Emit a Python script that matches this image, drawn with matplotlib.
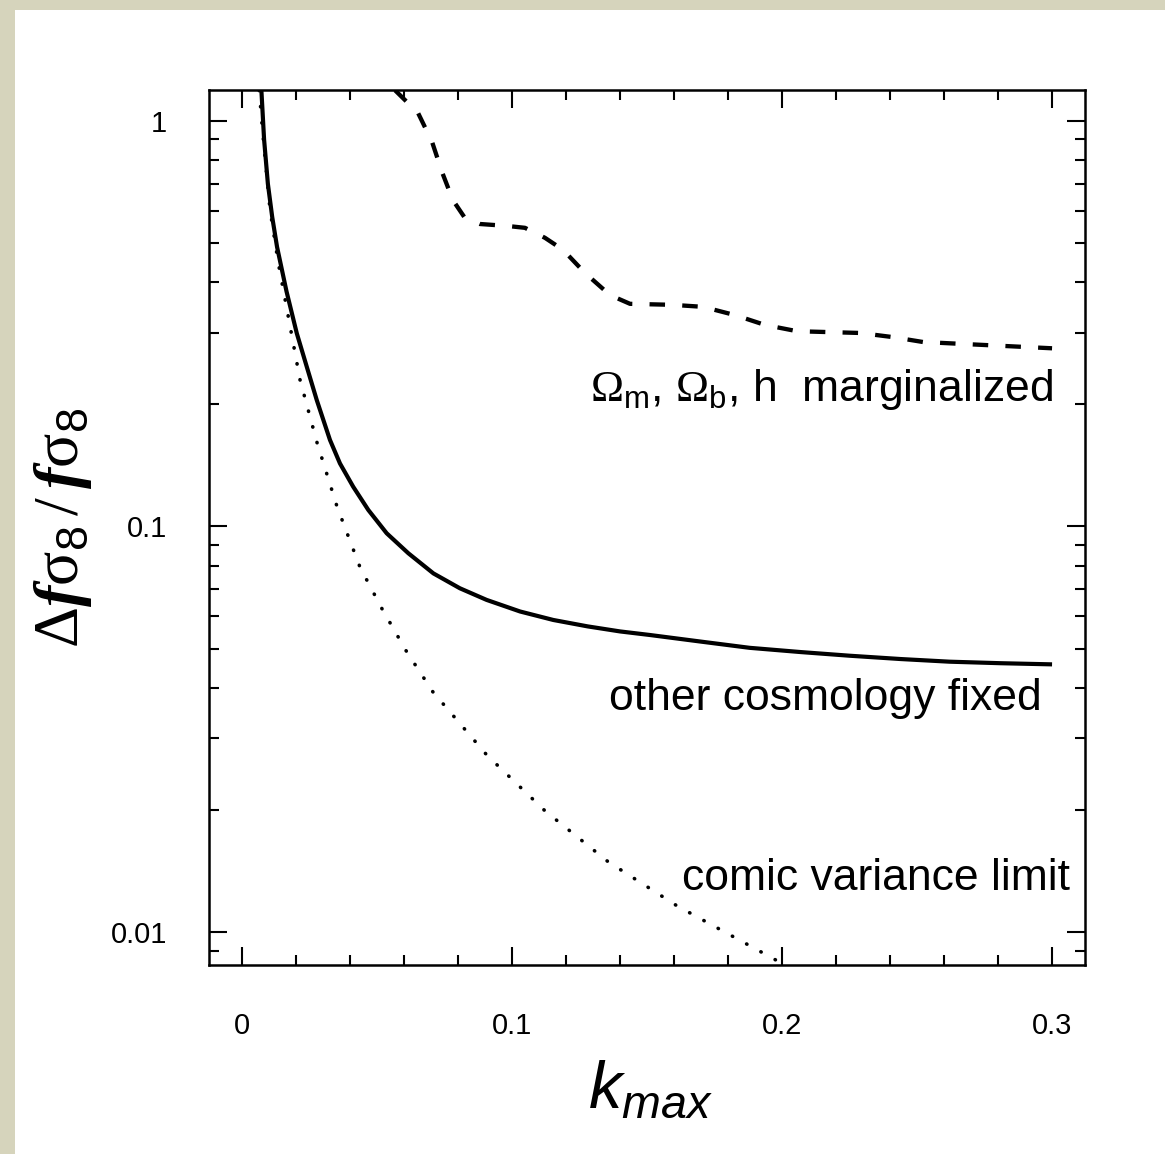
import numpy as np
import matplotlib.pyplot as plt
from matplotlib.patches import Rectangle
from matplotlib.ticker import FixedLocator, FixedFormatter, MultipleLocator, LogLocator, NullFormatter

plt.rcParams["font.family"] = ["Liberation Sans", "DejaVu Sans"]
plt.rcParams["mathtext.fontset"] = "custom"
plt.rcParams["mathtext.rm"] = "Liberation Serif"
plt.rcParams["mathtext.it"] = "Liberation Sans:italic"
plt.rcParams["mathtext.bf"] = "Liberation Serif:italic:bold"
plt.rcParams["mathtext.sf"] = "Liberation Sans"

# curves: k_max vs fractional error on f*sigma8
k_fixed = [0.0072, 0.0082, 0.0096, 0.0112, 0.0130, 0.0165, 0.0203, 0.0240, 0.0277,
           0.0326, 0.0363, 0.0412, 0.0468, 0.0536, 0.0616, 0.0709, 0.0807, 0.0906,
           0.103, 0.1153, 0.128, 0.140, 0.151, 0.170, 0.188, 0.207, 0.225, 0.244,
           0.262, 0.281, 0.300]
err_fixed = [1.19, 0.90, 0.70, 0.58, 0.489, 0.38, 0.2996, 0.2477, 0.205,
             0.1634, 0.143, 0.1253, 0.1098, 0.0962, 0.0859, 0.0766, 0.0704, 0.0659,
             0.0617, 0.0588, 0.0567, 0.0551, 0.054, 0.052, 0.0502, 0.049, 0.048, 0.0471,
             0.0464, 0.0460, 0.0457]

k_cv = [0.0064, 0.0076, 0.0104, 0.0135, 0.0167, 0.0215, 0.0278, 0.0352, 0.0437, 0.0519,
        0.0610, 0.0707, 0.0907, 0.1122, 0.1356, 0.1611, 0.1874, 0.1981]
err_cv = [1.19, 0.95, 0.604, 0.445, 0.342, 0.23, 0.161, 0.112, 0.0794, 0.0626,
          0.0491, 0.0391, 0.0273, 0.0199, 0.0149, 0.0116, 0.0093, 0.0085]

k_marg = [0.0567, 0.0652, 0.0704, 0.0741, 0.0781, 0.0826, 0.0881, 0.0981, 0.1048,
          0.1122, 0.1189, 0.1270, 0.1363, 0.1437, 0.1593, 0.1707, 0.1826, 0.1937,
          0.2056, 0.2289, 0.2411, 0.2522, 0.2759, 0.300]
err_marg = [1.19, 1.047, 0.888, 0.748, 0.638, 0.576, 0.557, 0.551, 0.545,
            0.515, 0.481, 0.422, 0.372, 0.354, 0.352, 0.348, 0.332, 0.314,
            0.303, 0.300, 0.293, 0.285, 0.280, 0.275]

xticks = [0, 0.1, 0.2, 0.3]
xticklabels = ["0", "0.1", "0.2", "0.3"]
yticks = [0.01, 0.1, 1]
yticklabels = ["0.01", "0.1", "1"]

W, H = 1165, 1154
fig = plt.figure(figsize=(W / 100, H / 100), dpi=100)
fig.patch.set_facecolor("#d6d4bc")
fig.patches.append(Rectangle((15 / W, 0), 1, 1 - 10 / H, transform=fig.transFigure,
                             facecolor="white", edgecolor="none", zorder=-5))

ax = fig.add_axes([209 / W, 1 - 965 / H, (1085 - 209) / W, (965 - 90) / H])
ax.set_yscale("log")

ax.plot(k_fixed, err_fixed, color="k", lw=3.0, solid_capstyle="butt",
        solid_joinstyle="round")
ax.plot(k_marg, err_marg, color="k", lw=3.1, linestyle=(0, (3.6, 4.0)))
ax.plot(k_cv, err_cv, color="k", lw=2.6, linestyle=(0, (0.1, 4.4)),
        dash_capstyle="round")

ax.set_xlim(-0.0122, 0.3122)
ax.set_ylim(0.00829, 1.192)

ax.xaxis.set_major_locator(FixedLocator(xticks))
ax.xaxis.set_major_formatter(FixedFormatter(xticklabels))
ax.xaxis.set_minor_locator(MultipleLocator(0.02))
ax.yaxis.set_major_locator(FixedLocator(yticks))
ax.yaxis.set_major_formatter(FixedFormatter(yticklabels))
ax.yaxis.set_minor_locator(LogLocator(base=10, subs=np.arange(2, 10)))
ax.yaxis.set_minor_formatter(NullFormatter())

ax.tick_params(which="both", direction="in", top=True, right=True, width=1.5,
               labelsize=21, colors="k")
ax.tick_params(which="major", length=13)
ax.tick_params(which="minor", length=7.5)
ax.tick_params(axis="y", which="major", pad=30)
ax.tick_params(axis="x", which="major", pad=34)
for s in ax.spines.values():
    s.set_linewidth(1.8)

ax.text(0.3004, 0.204, r"$\Omega_{\mathsf{m}}$, $\Omega_{\mathsf{b}}$, h  marginalized",
        fontsize=32, ha="right", va="baseline")
ax.text(0.2963, 0.0353, "other cosmology fixed", fontsize=32, ha="right", va="baseline")
ax.text(0.3067, 0.0127, "comic variance limit", fontsize=32, ha="right", va="baseline")

fig.text(650 / W, 1 - 1108 / H, r"$k_{max}$", fontsize=48, ha="center", va="baseline")
fig.text(62 / W, 1 - 528 / H,
         r"$\Delta\mathbf{f}\mathrm{\sigma}_{\mathsf{8}}\,/\,\mathbf{f}\mathrm{\sigma}_{\mathsf{8}}$",
         fontsize=46, rotation=90, ha="center", va="center")

fig.savefig("out.png", dpi=100, facecolor=fig.get_facecolor())
